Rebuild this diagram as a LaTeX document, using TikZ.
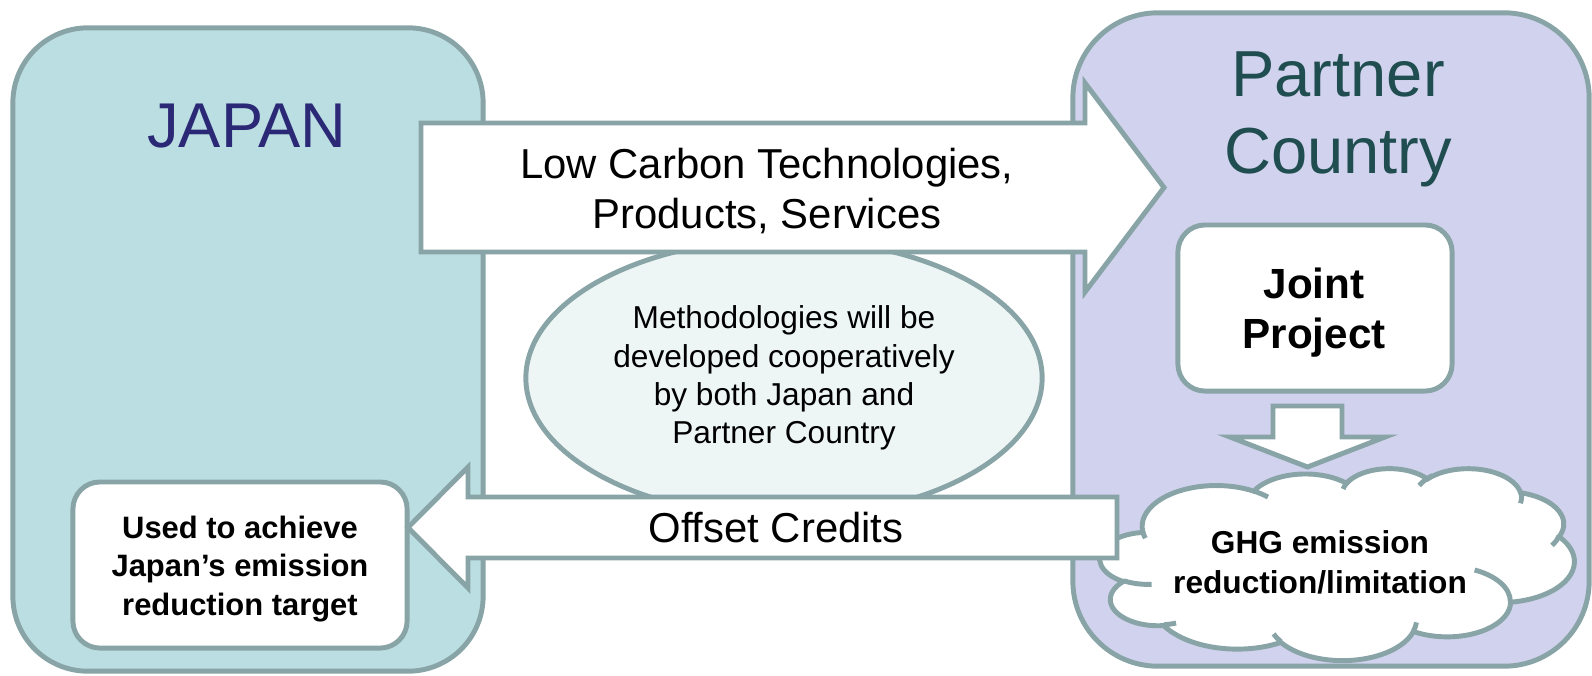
\documentclass[tikz,border=0pt]{standalone}
\usepackage{fontspec}
\setmainfont{Liberation Sans}
\usetikzlibrary{shapes.geometric}
\definecolor{bordercol}{HTML}{88A4A6}
\definecolor{japanfill}{HTML}{BBDEE3}
\definecolor{partnerfill}{HTML}{D0D2EE}
\definecolor{ellfill}{HTML}{EDF6F5}
\definecolor{japantext}{HTML}{2B2976}
\definecolor{partnertext}{HTML}{204D50}
\tikzset{
  outline/.style={draw=bordercol, line width=1.4pt, line join=miter},
  panel/.style={outline, rectangle, inner sep=0pt},
  whitebox/.style={panel, fill=white, rounded corners=0.27cm, minimum width=2.74cm, minimum height=1.66cm},
  blockarrow/.style={outline, fill=white},
  arrowtext/.style={align=center, font={\fontsize{11.9}{14.2}\selectfont}},
  titletext/.style={align=center, font={\fontsize{18.5}{21.9}\selectfont}},
}
\begin{document}
\begin{tikzpicture}[x=0.01cm, y=-0.01cm]
\useasboundingbox (0,0) rectangle (1592,675);

% country panels
\node[panel, fill=japanfill, rounded corners=0.75cm, minimum width=4.70cm, minimum height=6.43cm] (japan) at (248,349.5) {};
\node[panel, fill=partnerfill, rounded corners=0.85cm, minimum width=5.16cm, minimum height=6.53cm] (partner) at (1331,339.5) {};
\node[anchor=base, text=japantext, font={\fontsize{18}{21.6}\selectfont}] (japanlbl) at (247,147) {JAPAN};
\node[titletext, text=partnertext] (partnerlbl) at (1338,119) {Partner\\Country};

% methodology ellipse
\node[ellipse, outline, fill=ellfill, inner sep=0pt, minimum width=5.16cm, minimum height=2.78cm,
      align=center, font={\fontsize{9}{10.9}\selectfont}] (method) at (784,378)
  {Methodologies will be\\developed cooperatively\\by both Japan and\\Partner Country};

% joint project and cloud
\node[whitebox] (joint) at (1315,308) {};
\node[align=center, font={\bfseries\fontsize{12}{14.2}\selectfont}] (jointlbl) at (1314,313) {Joint\\Project};

\begin{scope}[shift={(1100,468)}, x=0.010972cm, y=-0.0044444cm]
\draw[outline, fill=white] (39.00,143.70)
  arc[start angle=-187.745, end angle=-59.65, x radius=67.53, y radius=91.90]
  arc[start angle=-152.03, end angle=-45.45, x radius=53.33, y radius=72.67]
  arc[start angle=-153.49, end angle=-37.33, x radius=43.65, y radius=59.45]
  arc[start angle=-139.71, end angle=-10.21, x radius=48.57, y radius=65.95]
  arc[start angle=-74.77, end angle=23.21, x radius=53.33, y radius=72.73]
  arc[start angle=-37.53, end angle=81.86, x radius=67.75, y radius=92.20]
  arc[start angle=0.46, end angle=121.98, x radius=57.85, y radius=78.67]
  arc[start angle=16.84, end angle=146.24, x radius=67.52, y radius=92.15]
  arc[start angle=58.99, end angle=150.19, x radius=77.20, y radius=105.43]
  arc[start angle=-276.69, end angle=-136.89, x radius=43.60, y radius=59.18]
  arc[start angle=-239.65, end angle=-95.89, x radius=43.45, y radius=59.45]
  -- cycle;
\draw[outline]
  (46.93,261.77) arc[start angle=85.54, end angle=120.35, x radius=43.45, y radius=59.45]
  (69.28,348.99) arc[start angle=68.26, end angle=83.31, x radius=43.60, y radius=59.18]
  (164.78,390.90) arc[start angle=146.24, end angle=158.48, x radius=67.52, y radius=92.15]
  (288.27,347.51) arc[start angle=4.74, end angle=16.84, x radius=67.52, y radius=92.15]
  (341.29,229.54) arc[start angle=-64.01, end angle=0.46, x radius=57.85, y radius=78.67]
  (417.98,153.54) arc[start angle=13.41, end angle=31.06, x radius=53.33, y radius=72.73]
  (383.24,54.26) arc[start angle=-10.21, end angle=11.75, x radius=48.57, y radius=65.95]
  (290.78,39.52) arc[start angle=-156.28, end angle=-131.82, x radius=48.57, y radius=65.95]
  (221.41,47.20) arc[start angle=-167.73, end angle=-145.46, x radius=43.65, y radius=59.45]
  (140.00,51.92) arc[start angle=-59.65, end angle=-45.71, x radius=67.53, y radius=91.90]
  (41.27,157.89) arc[start angle=163.19, end angle=172.26, x radius=67.53, y radius=91.90];
\end{scope}
\node[align=center, font={\bfseries\fontsize{9}{11.4}\selectfont}] (ghg) at (1320,562) {GHG emission\\reduction/limitation};

% down arrow from joint project to cloud
\draw[blockarrow] (1273,406) -- (1342,406) -- (1342,437) -- (1385,437) -- (1307.5,467)
  -- (1230,437) -- (1273,437) -- cycle;

% used box in Japan
\node[whitebox, minimum width=3.34cm] (used) at (240,565) {};
\node[align=center, font={\bfseries\fontsize{8.8}{11}\selectfont}] (usedlbl) at (240,569)
  {Used to achieve\\Japan’s emission\\reduction target};

% block arrows
\draw[blockarrow] (421,123) -- (1085,123) -- (1085,83) -- (1164,187.5) -- (1085,292)
  -- (1085,252) -- (421,252) -- cycle;
\node[arrowtext] (lowcarbon) at (767,191) {Low Carbon Technologies,\\Products, Services};

\draw[blockarrow] (1117,497) -- (468,497) -- (468,467) -- (408,527.5) -- (468,588)
  -- (468,558) -- (1117,558) -- cycle;
\node[arrowtext, anchor=base] (offset) at (776,542) {Offset Credits};
\end{tikzpicture}
\end{document}
